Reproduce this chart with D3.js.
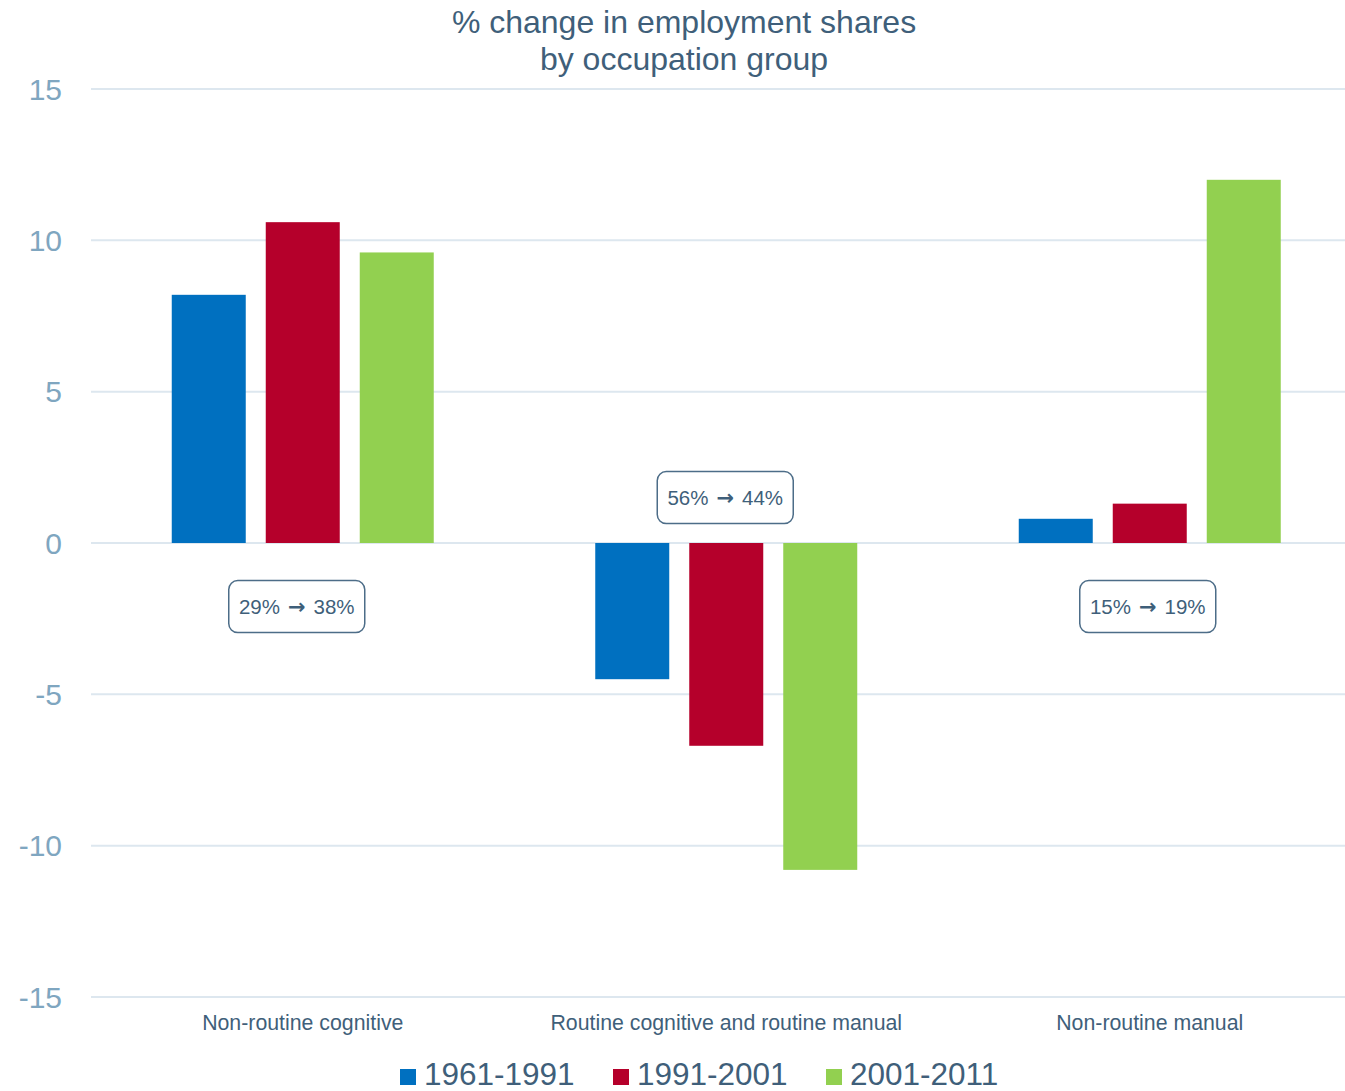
<!DOCTYPE html>
<html><head><meta charset="utf-8">
<script src="https://cdn.jsdelivr.net/npm/d3@7"></script>
<style>body{margin:0;background:#fff;}svg{display:block;font-family:"Liberation Sans",Arial,sans-serif;}</style>
</head><body>
<svg id="c" width="1345" height="1091"></svg>
<script>
const categories = ["Non-routine cognitive", "Routine cognitive and routine manual", "Non-routine manual"];
const seriesNames = ["1961-1991", "1991-2001", "2001-2011"];
const s1961_1991 = [8.2, -4.5, 0.8];
const s1991_2001 = [10.6, -6.7, 1.3];
const s2001_2011 = [9.6, -10.8, 12.0];
const colors = ["#0070c0", "#b5002b", "#92d050"];
const yTicks = [15, 10, 5, 0, -5, -10, -15];
const annotationFrom = ["29%", "56%", "15%"];
const annotationTo = ["38%", "44%", "19%"];
const annotationY = [-2.1, 1.5, -2.1];
const title = ["% change in employment shares", "by occupation group"];

const series = [s1961_1991, s1991_2001, s2001_2011];
const svg = d3.select("#c");
const y = d3.scaleLinear().domain([-15, 15]).range([997, 89]);
const x0 = d3.scaleBand().domain(categories).range([91, 1361.5]).paddingInner(0).paddingOuter(0);
const x1 = d3.scaleBand().domain(seriesNames).range([0, 262]).paddingInner(20/94).paddingOuter(0);
const groupOff = (x0.bandwidth() - 262) / 2;

// gridlines
svg.append("g").selectAll("line").data(yTicks).join("line")
  .attr("x1", 91).attr("x2", 1345)
  .attr("y1", d => y(d)).attr("y2", d => y(d))
  .attr("stroke", "#dde7ef").attr("stroke-width", 2);

// y tick labels
svg.append("g").selectAll("text").data(yTicks).join("text")
  .attr("x", 62).attr("y", d => y(d) + 10.5)
  .attr("text-anchor", "end").attr("font-size", 30).attr("fill", "#7fa6c0")
  .text(d => d);

// bars
const g = svg.append("g");
categories.forEach((c, ci) => {
  series.forEach((s, si) => {
    const v = s[ci];
    g.append("rect")
      .attr("x", x0(c) + groupOff + x1(seriesNames[si]))
      .attr("width", x1.bandwidth())
      .attr("y", y(Math.max(0, v)))
      .attr("height", Math.abs(y(v) - y(0)))
      .attr("fill", colors[si]);
  });
});

// annotations
const annShift = [-6, -1, -2];
categories.forEach((c, ci) => {
  const cx = x0(c) + x0.bandwidth() / 2 + annShift[ci];
  const cy = y(annotationY[ci]);
  const ag = svg.append("g");
  ag.append("rect").attr("x", cx - 68).attr("y", cy - 26).attr("width", 136).attr("height", 52)
    .attr("rx", 9).attr("fill", "#fff").attr("stroke", "#4d6d88").attr("stroke-width", 1.5);
  const t = ag.append("text").attr("x", cx).attr("y", cy + 7).attr("text-anchor", "middle")
    .attr("font-size", 20.5).attr("fill", "#3f5f7a");
  t.append("tspan").text(annotationFrom[ci]);
  t.append("tspan").attr("dx", 8).attr("font-family", "DejaVu Sans").attr("font-weight", "bold").attr("font-size", 21).text("\u2192");
  t.append("tspan").attr("dx", 8).text(annotationTo[ci]);
});

// category labels
svg.append("g").selectAll("text").data(categories).join("text")
  .attr("x", d => x0(d) + x0.bandwidth() / 2)
  .attr("y", 1030).attr("text-anchor", "middle").attr("font-size", 21.3).attr("fill", "#3f5f7a")
  .text(d => d);

// title
svg.append("g").selectAll("text").data(title).join("text")
  .attr("x", 684).attr("y", (d, i) => 33 + i * 37).attr("text-anchor", "middle")
  .attr("font-size", 32).attr("fill", "#3f5f7a").text(d => d);

// legend
const legX = [400, 613, 826];
const lg = svg.append("g");
seriesNames.forEach((n, i) => {
  lg.append("rect").attr("x", legX[i]).attr("y", 1069).attr("width", 16).attr("height", 16).attr("fill", colors[i]);
  lg.append("text").attr("x", legX[i] + 24).attr("y", 1085).attr("font-size", 31.5).attr("fill", "#3f5f7a").text(n);
});
</script>
</body></html>
